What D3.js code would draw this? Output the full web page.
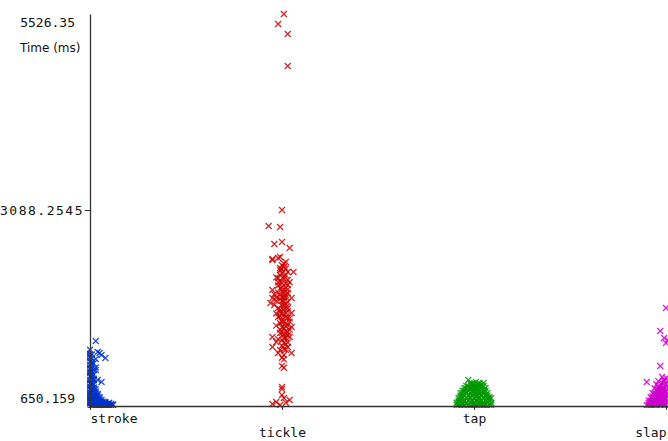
<!DOCTYPE html>
<html>
<head>
<meta charset="utf-8">
<script src="https://cdn.jsdelivr.net/npm/d3@7"></script>
<style>
  body { margin: 0; background: #fff; }
  svg { display: block; }
</style>
</head>
<body>
<div id="chart"></div>
<script>
// categories and y ticks
var categories = ["stroke", "tickle", "tap", "slap"];
var yTicks = [650.159, 3088.2545, 5526.35];
var colors = ["#0033cc", "#cc0000", "#009900", "#cc00cc"];

// each point: [jitter in 1/100 of category step, time in ms]
var stroke = [
  [3,1459],[4,1322],[5,1309],[6,1284],[8,1247],[3,1235],[1,1197],[3,1098],[2,973],[4,973],
  [6,949],[0,1260],[-1,1230],[0,1200],[1,1170],[-1,1140],[0,1110],[1,1080],[-1,1050],[0,1020],
  [1,990],[-1,960],[0,930],[2,1040],[1,900],[-1,880],[0,860],[2,840],[1,820],[-1,800],
  [3,810],[0,780],[2,770],[4,760],[1,750],[-1,740],[3,730],[5,720],[0,720],[2,705],
  [6,700],[1,695],[4,690],[7,685],[0,680],[3,675],[8,672],[10,668],[5,665],[2,662],
  [11,660],[9,655],[6,652],[1,651],[4,650.159],[-1,670],[-2,700],[0,650.5],[3,655],[7,660],
  [-1,760],[0,820],[2,880],[1,1010],[3,1130],[2,1180],[-1,1280],[0,1350],[1,920],[2,990],
  [5,690],[3,700],[6,675],[8,690],[9,670],[4,710],[2,740],[5,740],[1,780],[3,860],
  [0,1290],[1,1240],[0,1160],[1,1120],[0,1060],[1,1030],[0,970],[1,940],[0,890],[1,850],
  [0,800],[1,720],[0,700],[2,680],[1,665],[3,690],[6,660],[4,670],[7,670],[2,720],
  [2,800],[2,920],[1,1290],[-1,1320],[0,1080],[2,1100],[1,860],[3,780],[5,705],[9,680],
  [3,760],[4,735],[5,760],[6,725],[7,705],[8,700],[10,690],[11,675],[12,662],[10,655],
  [4,800],[3,830],[2,860],[5,655],[7,650.5],[3,650.5],[8,652],[12,670],[6,690],[4,780]
];
var tickle = [
  [1,5526.35],[-2,5402],[3,5278],[3,4880],[0,3088],[-7,2889],[-1,2877],[-4,2665],[0,2690],[4,2616],
  [-5,2466],[-1,2504],[-5,2479],[-2,2491],[2,2442],[1,2379],[-1,2367],[6,2317],[3,2317],[-2,2242],
  [3,2218],[0,2180],[3,2155],[-5,2093],[1,2093],[3,2056],[-1,2031],[2,2006],[5,1994],[-5,1994],
  [-6,1931],[-4,1906],[1,1906],[3,1944],[-1,1844],[3,1869],[2,1807],[5,1807],[-2,1757],[3,1745],
  [0,1695],[3,1658],[5,1633],[1,1620],[3,1571],[-1,1558],[-5,1508],[2,1496],[4,1508],[-3,1446],
  [1,1434],[-5,1384],[3,1384],[-1,1347],[5,1309],[-2,1309],[1,1284],
  [0,2300],[1,2260],[-1,2200],[2,2120],[0,2080],[-2,2150],[1,2010],[0,1960],[2,1880],[-1,1820],
  [1,1780],[0,1720],[2,1680],[-1,1600],[1,1540],[0,1470],[2,1420],[-3,2250],[4,2190],[-4,2040],
  [4,1740],[-3,1650],[0,2400],[-1,2340],[2,2360],[1,1360],[3,1440],[0,1250],[1,1230],
  [0,1148],[1,1125],[0,886],[0,860],[0,787],[-3,700],[4,725],[-5,675],[1,750],[-1,662],[2,690],
  [1,2420],[0,2350],[2,2280],[-1,2280],[1,2230],[-2,2190],[2,2170],[0,2130],[-1,2110],[1,2060],
  [-2,2060],[2,2030],[0,2000],[-1,1980],[1,1950],[-3,1960],[2,1920],[0,1900],[-2,1870],[1,1850],
  [3,1830],[0,1790],[-1,1770],[2,1760],[4,1700],[1,1700],[-1,1680],[2,1640],[0,1630],[4,1600],
  [2,1580],[0,1560],[3,1530],[1,1500],[-2,1480],[0,1400],[2,1350],[-3,2000],[3,2100],[-3,1800]
];
var tap = [
  [-3,974],[1,950],[5,936],[8,760],[9,745],[-7,760],[-8,700],
  [-2,930],[-1,930],[0,930],[2,930],[3,930],
  [-4,900],[-3,900],[-1,900],[0,900],[1,900],[3,900],[4,900],[5,900],
  [-5,870],[-4,870],[-2,870],[-1,870],[1,870],[2,870],[4,870],[6,870],
  [-6,840],[-5,840],[-3,840],[-1,840],[0,840],[2,840],[3,840],[5,840],[6,840],
  [-7,810],[-6,810],[-4,810],[-2,810],[0,810],[1,810],[3,810],[5,810],[7,810],
  [-7,780],[-5,780],[-3,780],[-1,780],[1,780],[2,780],[4,780],[6,780],[7,780],
  [-8,750],[-6,750],[-4,750],[-2,750],[0,750],[2,750],[3,750],[5,750],[7,750],[8,750],
  [-8,720],[-7,720],[-5,720],[-3,720],[-1,720],[1,720],[4,720],[6,720],[8,720],
  [-9,690],[-7,690],[-6,690],[-4,690],[-2,690],[0,690],[2,690],[3,690],[5,690],[7,690],[9,690],
  [-9,665],[-8,665],[-6,665],[-3,665],[-1,665],[1,665],[3,665],[4,665],[6,665],[8,665],[9,665],
  [-7,655],[-5,655],[-2,655],[0,655],[2,655],[5,655],[7,655],
  [-3,885],[0,885],[3,885],[-4,825],[-1,825],[2,825],[4,825],[-6,765],[-2,765],[1,765],
  [5,765],[-5,705],[-1,705],[3,705],[6,705],[-4,675],[0,675],[5,675],[-1,915],[2,915]
];
var slap = [
  [0,1869],[-3,1583],[-1,1496],[0,1434],[1,1470],[-3,1148],[-10,949],[-2,1011],[0,1000],[-1,980],
  [-4,960],[1,960],[-2,940],[-5,920],[0,920],[-3,900],[-1,880],[-6,870],[2,870],[-4,850],
  [-2,840],[0,830],[-7,810],[-5,800],[-3,800],[-1,790],[1,780],[-8,760],[-6,750],[-4,760],
  [-2,740],[0,740],[-9,720],[-7,710],[-5,720],[-3,700],[-1,700],[1,710],[-8,690],[-6,680],
  [-4,675],[-2,670],[0,665],[-9,660],[-7,655],[-5,660],[-3,652],[-1,655],[2,660],[3,800],
  [4,900],[-10,660],[-8,660],[-6,700],[-4,720],[-2,780],[-1,850],[-3,760],[-5,680],[-7,680],
  [-1,960],[0,890],[-2,870],[-3,830],[-1,820],[-4,790],[-5,760],[-2,700],[-6,720],[-7,740],
  [-1,740],[-3,730],[-8,700],[-5,690],[-3,670],[-6,660],[-1,680],[0,780],[-2,810],[-4,700],
  [-4,820],[-6,780],[-7,770],[-8,720],[-3,860],[-5,840],[-2,910],[-4,890],[-6,810],[-9,690]
];
var series = [stroke, tickle, tap, slap];

var width = 668,
    height = 441;

var svg = d3.select("#chart").append("svg")
    .attr("width", width)
    .attr("height", height);

var x = d3.scalePoint()
    .domain(categories)
    .range([90, 666]);

var jitter = d3.scaleLinear()
    .domain([0, 100])
    .range([0, x.step()]);

var y = d3.scaleLinear()
    .domain([yTicks[0], yTicks[2]])
    .range([406, 14]);

svg.append("clipPath")
    .attr("id", "plot-clip")
  .append("rect")
    .attr("x", 87)
    .attr("y", 0)
    .attr("width", width - 87)
    .attr("height", 408);

var g = svg.append("g").attr("clip-path", "url(#plot-clip)");

// draw the x markers for every category
series.forEach(function (pts, i) {
    g.append("g")
        .selectAll("path")
        .data(pts)
        .join("path")
        .attr("transform", function (d) {
            return "translate(" + (x(categories[i]) + jitter(d[0])) + "," + y(d[1]) + ")";
        })
        .attr("d", "M-3,-3L3,3M-3,3L3,-3")
        .attr("fill", "none")
        .attr("stroke", colors[i])
        .attr("stroke-width", 1.3)
        .attr("stroke-opacity", 0.85);
});

// y axis
var yAxis = svg.append("g")
    .attr("transform", "translate(90,0)")
    .call(d3.axisLeft(y)
        .tickValues(yTicks)
        .tickFormat(function (d) { return String(d); })
        .tickSize(5)
        .tickSizeOuter(0)
        .tickPadding(1));

yAxis.select(".domain").attr("stroke", "#333").attr("stroke-width", 1.3);
yAxis.selectAll(".tick line").attr("stroke", "#333");
yAxis.selectAll(".tick text")
    .attr("fill", "#111")
    .style("font-family", "DejaVu Sans Mono")
    .style("font-size", "13px");

yAxis.selectAll(".tick").each(function (d, i) {
    var t = d3.select(this);
    if (i === 0 || i === yTicks.length - 1) {
        t.select("line").remove();
        t.select("text")
            .attr("x", -15)
            .attr("dy", i === 0 ? "-0.3em" : "0.95em");
    } else {
        t.select("text").style("letter-spacing", "1.5px");
    }
});

svg.append("text")
    .attr("x", 20)
    .attr("y", 52)
    .style("font-family", "DejaVu Sans")
    .style("font-size", "12px")
    .attr("fill", "#111")
    .text("Time (ms)");

// x axis
var xAxis = svg.append("g")
    .attr("transform", "translate(0,406)")
    .call(d3.axisBottom(x)
        .tickSize(4)
        .tickSizeOuter(0));

xAxis.select(".domain").attr("stroke", "#333").attr("stroke-width", 1.3);
xAxis.selectAll(".tick line").attr("stroke", "#333");
xAxis.selectAll(".tick text")
    .attr("fill", "#111")
    .style("font-family", "DejaVu Sans Mono")
    .style("font-size", "13px")
    .attr("y", function (d, i) { return i % 2 === 0 ? 8 : 22; })
    .attr("text-anchor", function (d, i) {
        if (i === 0) return "start";
        if (i === categories.length - 1) return "end";
        return "middle";
    });

svg.append("line")
    .attr("x1", 666)
    .attr("x2", width)
    .attr("y1", 406.5)
    .attr("y2", 406.5)
    .attr("stroke", "#333")
    .attr("stroke-width", 1.3);
</script>
</body>
</html>
